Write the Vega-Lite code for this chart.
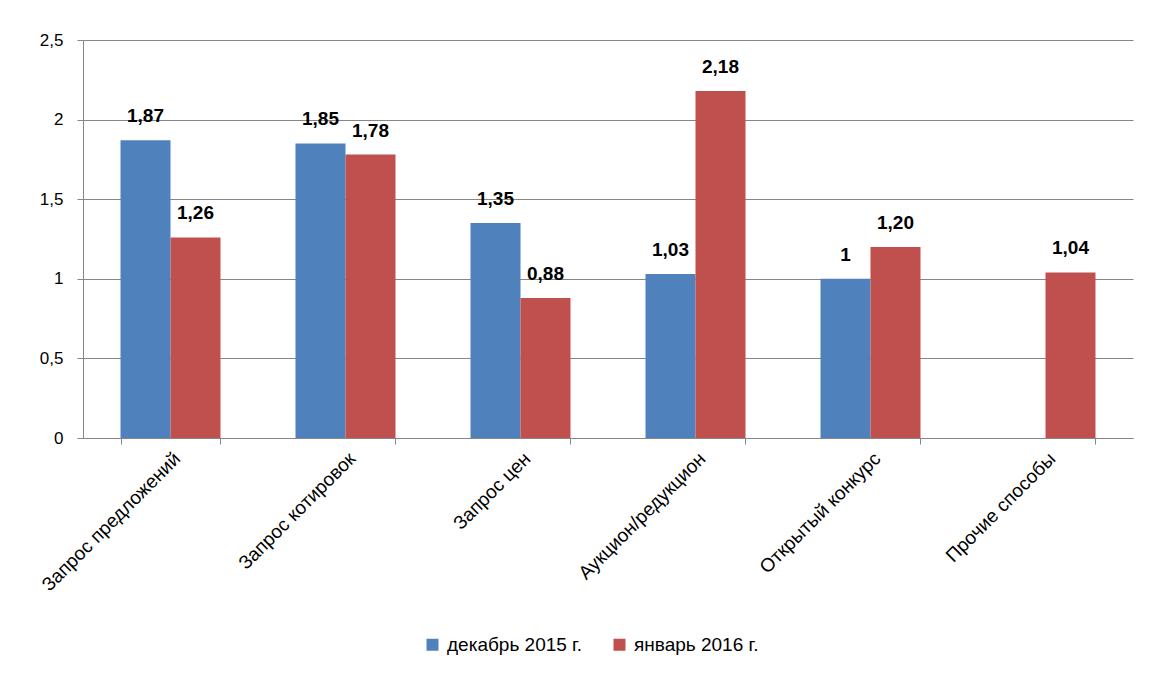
{
  "$schema": "https://vega.github.io/schema/vega-lite/v6.json",
  "width": 1050,
  "height": 398,
  "autosize": {"type": "none"},
  "padding": {"left": 83, "top": 40, "right": 17, "bottom": 239},
  "background": "white",
  "data": {
    "values": [
      {"category": "Запрос предложений", "series": "декабрь 2015 г.", "value": 1.87, "label": "1,87"},
      {"category": "Запрос предложений", "series": "январь 2016 г.", "value": 1.26, "label": "1,26"},
      {"category": "Запрос котировок", "series": "декабрь 2015 г.", "value": 1.85, "label": "1,85"},
      {"category": "Запрос котировок", "series": "январь 2016 г.", "value": 1.78, "label": "1,78"},
      {"category": "Запрос цен", "series": "декабрь 2015 г.", "value": 1.35, "label": "1,35"},
      {"category": "Запрос цен", "series": "январь 2016 г.", "value": 0.88, "label": "0,88"},
      {"category": "Аукцион/редукцион", "series": "декабрь 2015 г.", "value": 1.03, "label": "1,03"},
      {"category": "Аукцион/редукцион", "series": "январь 2016 г.", "value": 2.18, "label": "2,18"},
      {"category": "Открытый конкурс", "series": "декабрь 2015 г.", "value": 1.0, "label": "1"},
      {"category": "Открытый конкурс", "series": "январь 2016 г.", "value": 1.2, "label": "1,20"},
      {"category": "Прочие способы", "series": "январь 2016 г.", "value": 1.04, "label": "1,04"}
    ]
  },
  "encoding": {
    "x": {
      "field": "category",
      "type": "nominal",
      "sort": null,
      "scale": {
        "domain": ["Запрос предложений", "Запрос котировок", "Запрос цен", "Аукцион/редукцион", "Открытый конкурс", "Прочие способы"],
        "paddingInner": 0.4286,
        "paddingOuter": 0.2143
      },
      "axis": {
        "title": null,
        "labelAngle": -45,
        "labelAlign": "right",
        "labelBaseline": "top",
        "labelFontSize": 19,
        "labelPadding": 5,
        "labelLimit": 400,
        "tickBand": "extent",
        "ticks": true,
        "tickSize": 6,
        "tickColor": "#868686",
        "domainColor": "#868686",
        "grid": false
      }
    },
    "xOffset": {
      "field": "series",
      "type": "nominal",
      "scale": {"domain": ["декабрь 2015 г.", "январь 2016 г."], "paddingInner": 0, "paddingOuter": 0}
    },
    "y": {
      "field": "value",
      "type": "quantitative",
      "scale": {"domain": [0, 2.5], "nice": false},
      "axis": {
        "title": null,
        "values": [0, 0.5, 1, 1.5, 2, 2.5],
        "labelExpr": "replace(format(datum.value, '~g'), '.', ',')",
        "labelFontSize": 17,
        "labelPadding": 14,
        "tickSize": 6,
        "tickColor": "#868686",
        "domainColor": "#868686",
        "grid": true,
        "gridColor": "#868686",
        "gridWidth": 1
      }
    }
  },
  "layer": [
    {
      "mark": {"type": "bar", "strokeWidth": 1, "strokeOpacity": 0.5},
      "encoding": {
        "color": {
          "field": "series",
          "type": "nominal",
          "scale": {"domain": ["декабрь 2015 г.", "январь 2016 г."], "range": ["#4F81BD", "#C0504D"]},
          "legend": {
            "title": null,
            "orient": "none",
            "direction": "horizontal",
            "legendX": 340,
            "legendY": 595,
            "symbolType": "square",
            "symbolSize": 144,
            "symbolStrokeWidth": 0,
            "labelFontSize": 19,
            "labelOffset": 5,
            "columnPadding": 27,
            "labelColor": "#000000"
          }
        }
      }
    },
    {
      "mark": {"type": "text", "dy": -24, "baseline": "middle", "align": "center", "fontWeight": "bold", "fontSize": 19, "color": "#000000"},
      "encoding": {"text": {"field": "label", "type": "nominal"}}
    }
  ],
  "config": {
    "font": "Liberation Sans",
    "view": {"stroke": null},
    "axis": {"labelColor": "#000000", "labelFont": "Liberation Sans"},
    "legend": {"labelFont": "Liberation Sans"}
  }
}
